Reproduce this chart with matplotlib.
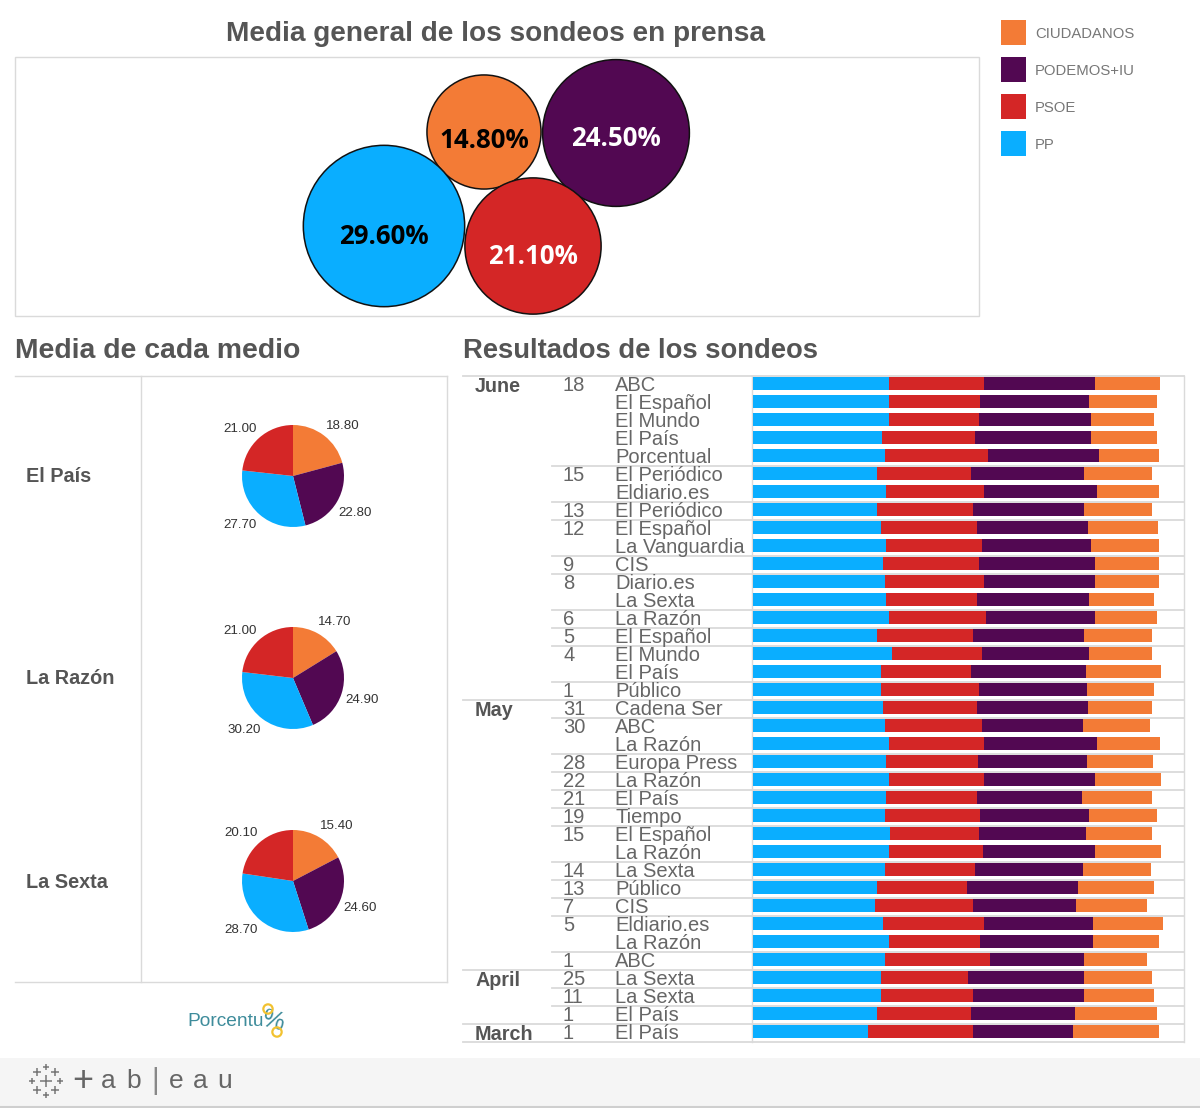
import matplotlib
matplotlib.use("Agg")
import matplotlib.pyplot as plt
import numpy as np

plt.rcParams["font.family"] = ["Liberation Sans", "DejaVu Sans"]

# party order and colours
parties = ["CIUDADANOS", "PODEMOS+IU", "PSOE", "PP"]
party_colors = ["#F37B36", "#520852", "#D42626", "#0AAEFF"]
pie_colors = ["#F37B36", "#520852", "#0AAEFF", "#D42626"]

# general average
media_general = [14.8, 24.5, 21.1, 29.6]
bubble_x = [484, 616, 533, 384]
bubble_y = [132, 133, 246, 226]

# average per outlet (ciudadanos, podemos, pp, psoe)
medios = ["El País", "La Razón", "La Sexta"]
media_pais = [18.8, 22.8, 27.7, 21.0]
media_razon = [14.7, 24.9, 30.2, 21.0]
media_sexta = [15.4, 24.6, 28.7, 20.1]

# polls
months = ["June"] * 18 + ["May"] * 15 + ["April"] * 3 + ["March"]
days = [18, 18, 18, 18, 18, 15, 15, 13, 12, 12, 9, 8, 8, 6, 5, 4, 4, 1,
        31, 30, 30, 28, 22, 21, 19, 15, 15, 14, 13, 7, 5, 5, 1,
        25, 11, 1, 1]
sources = ["ABC", "El Español", "El Mundo", "El País", "Porcentual", "El Periódico",
           "Eldiario.es", "El Periódico", "El Español", "La Vanguardia", "CIS", "Diario.es",
           "La Sexta", "La Razón", "El Español", "El Mundo", "El País", "Público",
           "Cadena Ser", "ABC", "La Razón", "Europa Press", "La Razón", "El País", "Tiempo",
           "El Español", "La Razón", "La Sexta", "Público", "CIS", "Eldiario.es", "La Razón", "ABC",
           "La Sexta", "La Sexta", "El País", "El País"]
pp = [30.8, 30.8, 30.8, 29.4, 29.9, 28.2, 30.3, 28.2, 29.1, 30.3, 29.5, 29.9, 30.3, 30.8, 28.2, 31.6, 29.1, 29.1,
      29.5, 29.9, 30.8, 30.3, 30.8, 30.3, 29.9, 31.2, 30.8, 29.9, 28.2, 27.8, 29.5, 30.8, 29.9,
      29.1, 29.1, 28.2, 26.1]
psoe = [21.8, 20.9, 20.5, 21.0, 23.4, 21.4, 22.2, 21.8, 21.8, 21.8, 21.8, 22.6, 20.5, 22.2, 21.8, 20.5, 20.5, 22.2,
        21.4, 22.2, 21.8, 20.9, 21.8, 20.5, 21.8, 20.1, 21.4, 20.5, 20.5, 22.2, 23.0, 20.9, 23.9,
        19.7, 20.9, 21.4, 23.9]
podemos = [25.2, 24.7, 25.6, 26.4, 25.3, 25.6, 25.6, 25.2, 25.2, 24.7, 26.4, 25.2, 25.6, 24.7, 25.2, 24.3, 26.0, 24.7,
           25.2, 23.0, 25.6, 24.7, 25.2, 23.9, 24.7, 24.3, 25.6, 24.7, 25.2, 23.5, 24.7, 25.6, 21.4,
           26.4, 25.2, 23.6, 22.7]
cs = [14.6, 15.4, 14.3, 15.0, 13.7, 15.4, 14.2, 15.4, 15.9, 15.4, 14.6, 14.6, 14.7, 14.2, 15.4, 14.2, 17.1, 15.1,
      14.6, 15.1, 14.2, 15.1, 15.0, 15.9, 15.4, 15.0, 15.0, 15.4, 17.2, 16.0, 15.9, 15.0, 14.3,
      15.4, 16.0, 18.7, 19.6]

W, H = 1200, 1108
GREY = "#DADADA"
TXT = "#555555"
ROW_TOP = 376
ROW_H = 18.0


def px_axes(fig, x0, y0, x1, y1):
    """Axes placed with pixel coordinates (y from the top)."""
    return fig.add_axes([x0 / W, 1 - y1 / H, (x1 - x0) / W, (y1 - y0) / H])


fig = plt.figure(figsize=(W / 100, H / 100), dpi=100, facecolor="white")

# overlay in pixel coordinates for frames and text
bg = fig.add_axes([0, 0, 1, 1])
bg.set_xlim(0, W)
bg.set_ylim(H, 0)
bg.axis("off")

bg.add_patch(plt.Rectangle((0, 1058), W, 50, color="#F5F5F5", lw=0))
bg.plot([0, W], [1107, 1107], color="#CFCFCF", lw=1.5)

# titles
bg.text(496, 34, "Media general de los sondeos en prensa", fontsize=20.2, fontweight="bold",
        color=TXT, ha="center", va="center")
bg.text(15, 351, "Media de cada medio", fontsize=20.4, fontweight="bold", color=TXT, va="center")
bg.text(463, 351, "Resultados de los sondeos", fontsize=19.75, fontweight="bold", color=TXT, va="center")

# legend
for i, (name, col) in enumerate(zip(parties, party_colors)):
    ly = 33 + i * 37
    bg.add_patch(plt.Rectangle((1001, ly - 13), 25, 25, color=col, lw=0))
    bg.text(1035, ly + 1, name, fontsize=10.7, color="#777777", va="center")

# bubbles
bg.add_patch(plt.Rectangle((15, 57), 964, 259, fill=False, ec=GREY, lw=1.0))
bubble_sizes = np.array(media_general) * 456
bg.scatter(bubble_x, bubble_y, s=bubble_sizes, c=party_colors, edgecolors="#111111", linewidths=1.1, zorder=3)
bubble_txt = ["black", "white", "white", "black"]
bubble_txt_dy = [8, 6, 10, 10]
for x, y, v, c, dy in zip(bubble_x, bubble_y, media_general, bubble_txt, bubble_txt_dy):
    bg.text(x, y + dy, f"{v:.2f}%", color=c, fontsize=18.6, fontweight="bold", family=["Open Sans", "DejaVu Sans"],
            ha="center", va="center", zorder=4)

# left panel
bg.plot([15, 447], [376, 376], color=GREY, lw=1.0)
bg.plot([15, 447], [982, 982], color=GREY, lw=1.0)
bg.plot([141, 141], [376, 982], color=GREY, lw=1.0)
bg.plot([447, 447], [376, 982], color=GREY, lw=1.0)

pie_values = [media_pais, media_razon, media_sexta]
pie_centers = [476, 678, 881]
# nudges of the four value labels, in pixels
label_dx = [6, 0, -5, -5]
label_dy = [-7, 0, 6, -7]
for name, vals, cy in zip(medios, pie_values, pie_centers):
    bg.text(26, cy + 1, name, fontsize=14.3, fontweight="bold", color=TXT, va="center")
    ax = px_axes(fig, 293 - 90, cy - 90, 293 + 90, cy + 90)
    patches, texts = ax.pie(vals, colors=pie_colors, startangle=90, counterclock=False, radius=1,
                            labels=[f"{v:.2f}" for v in vals], labeldistance=1.42,
                            textprops={"fontsize": 9.6, "color": "#333333"})
    ax.set_xlim(-90 / 51, 90 / 51)
    ax.set_ylim(-90 / 51, 90 / 51)
    for t, dx, dy in zip(texts, label_dx, label_dy):
        tx, ty = t.get_position()
        t.set_position((tx + dx / 51, ty + dy / 51))
        t.set_ha("center")
        t.set_va("center")

# poll table
n = len(sources)
bg.plot([463, 1184], [ROW_TOP, ROW_TOP], color=GREY, lw=1.3)
bg.plot([463, 1184], [ROW_TOP + n * ROW_H] * 2, color=GREY, lw=1.3)
bg.plot([1184, 1184], [ROW_TOP, ROW_TOP + n * ROW_H], color=GREY, lw=1.0)
bg.plot([752, 752], [ROW_TOP, ROW_TOP + n * ROW_H], color=GREY, lw=1.0)

for i in range(n):
    y = ROW_TOP + (i + 0.5) * ROW_H
    bg.text(615, y + 0.5, sources[i], fontsize=14.5, color="#666666", va="center", zorder=2)
    new_month = i == 0 or months[i] != months[i - 1]
    new_day = new_month or days[i] != days[i - 1]
    if new_month:
        bg.text(475, y + 2, months[i], fontsize=14.2, fontweight="bold", color=TXT, va="center", zorder=2)
        if i > 0:
            bg.plot([463, 1184], [y - ROW_H / 2] * 2, color=GREY, lw=1.3, zorder=1)
    if new_day:
        bg.text(563, y + 0.5, str(days[i]), fontsize=14.5, color="#666666", va="center", zorder=2)
        if i > 0 and not new_month:
            bg.plot([552, 1184], [y - ROW_H / 2] * 2, color=GREY, lw=1.3, zorder=1)

ax = px_axes(fig, 753, ROW_TOP, 1184, ROW_TOP + n * ROW_H)
ax.patch.set_alpha(0)
rows = np.arange(n)
left = np.zeros(n)
for vals, col in zip([pp, psoe, podemos, cs], party_colors[::-1]):
    ax.barh(rows - 0.08, vals, left=left, height=0.72, color=col, lw=0)
    left = left + np.array(vals)
ax.set_xlim(0, 431 / 4.40)
ax.set_ylim(n - 0.5, -0.5)
ax.axis("off")

# Porcentu logo
bg.text(187, 1021, "Porcentu", fontsize=13.8, color="#3E8C9B", va="center")
bg.text(273, 1021, "%", fontsize=18, color="#3E8C9B", ha="center", va="center", rotation=-15)
bg.scatter([268, 277], [1009, 1032], s=45, facecolors="none", edgecolors="#F2C230", linewidths=1.6, zorder=3)

# tableau footer
plus_x = [46, 37, 55, 46, 46, 32, 60, 37, 55]
plus_y = [1081, 1072, 1072, 1067, 1095, 1081, 1081, 1090, 1090]
plus_s = [70, 28, 28, 22, 22, 22, 22, 28, 28]
bg.scatter(plus_x, plus_y, s=plus_s, marker="+", c="#777777", linewidths=1.1)
letters = ["+", "a", "b", "|", "e", "a", "u"]
letter_x = [83, 108, 134, 155, 176, 200, 225]
letter_fs = [26, 19, 19, 21, 19, 19, 19]
letter_col = ["#666666", "#666666", "#666666", "#888888", "#666666", "#666666", "#666666"]
for x, ch, fs, c in zip(letter_x, letters, letter_fs, letter_col):
    bg.text(x, 1081, ch, fontsize=fs, color=c, ha="center", va="center")

fig.savefig("out.png", dpi=100, facecolor="white")
